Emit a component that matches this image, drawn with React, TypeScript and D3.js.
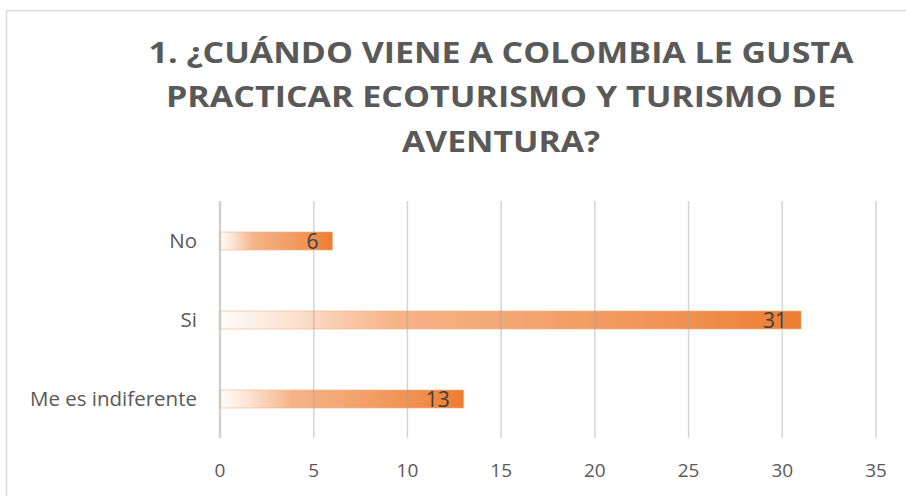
import React from "react";
import * as d3 from "d3";

const categories = ["No", "Si", "Me es indiferente"];
const values = [6, 31, 13];
const xTicks = [0, 5, 10, 15, 20, 25, 30, 35];
const titleLines = [
  "1. ¿CUÁNDO VIENE A COLOMBIA LE GUSTA",
  "PRACTICAR ECOTURISMO Y TURISMO DE",
  "AVENTURA?",
];

const W = 906;
const H = 496;
const FONT = "'Open Sans', 'Noto Sans', sans-serif";

export default function App() {
  const x = d3.scaleLinear().domain([0, 35]).range([220, 876]);
  const y = d3
    .scaleBand<string>()
    .domain(categories)
    .range([201.5, 438.5])
    .paddingInner(0.772)
    .paddingOuter(0.386);
  const bw = y.bandwidth();

  const titleSpec = [
    { y: 63, w: 705 },
    { y: 107, w: 670 },
    { y: 152, w: 198 },
  ];

  return (
    <svg
      width={W}
      height={H}
      style={{ position: "absolute", left: 0, top: 0, background: "#fff" }}
    >
      <defs>
        <linearGradient id="barGrad" x1="0" y1="0" x2="1" y2="0">
          <stop offset="0" stopColor="#ED7D31" stopOpacity={0.02} />
          <stop offset="0.12" stopColor="#ED7D31" stopOpacity={0.22} />
          <stop offset="0.3" stopColor="#ED7D31" stopOpacity={0.58} />
          <stop offset="0.5" stopColor="#ED7D31" stopOpacity={0.68} />
          <stop offset="0.8" stopColor="#ED7D31" stopOpacity={0.85} />
          <stop offset="1" stopColor="#ED7D31" stopOpacity={1} />
        </linearGradient>
      </defs>
      <rect x={0} y={0} width={W} height={H} fill="#fff" />
      <rect
        x={6.5}
        y={10.5}
        width={W + 20}
        height={H + 20}
        fill="none"
        stroke="#D9D9D9"
        strokeWidth={1.5}
      />
      {titleLines.map((t, i) => (
        <text
          key={i}
          x={501}
          y={titleSpec[i].y}
          textAnchor="middle"
          fontFamily={FONT}
          fontWeight={700}
          fontSize={29}
          fill="#595959"
          textLength={titleSpec[i].w}
          lengthAdjust="spacingAndGlyphs"
        >
          {t}
        </text>
      ))}
      {categories.map((c, i) => (
        <rect
          key={c}
          x={x(0)}
          y={y(c)!}
          width={x(values[i]) - x(0)}
          height={bw}
          fill="url(#barGrad)"
          stroke="#F4B183"
          strokeOpacity={0.6}
          strokeWidth={1}
        />
      ))}
      {xTicks.map((t) => (
        <line
          key={t}
          x1={x(t)}
          x2={x(t)}
          y1={201}
          y2={438}
          stroke="#A6A6A6"
          strokeOpacity={t === 0 ? 0.5 : 0.48}
          strokeWidth={t === 0 ? 2.5 : 1.5}
        />
      ))}
      {categories.map((c, i) => (
        <text
          key={c}
          x={x(values[i]) - 14}
          y={y(c)! + bw / 2 + 7.5}
          textAnchor="end"
          fontFamily={FONT}
          fontSize={21}
          fill="#404040"
        >
          {values[i]}
        </text>
      ))}
      {categories.map((c) => (
        <text
          key={c}
          x={197}
          y={y(c)! + bw / 2 + 7}
          textAnchor="end"
          fontFamily={FONT}
          fontSize={20.5}
          fill="#595959"
        >
          {c}
        </text>
      ))}
      {xTicks.map((t) => (
        <text
          key={t}
          x={x(t)}
          y={477}
          textAnchor="middle"
          fontFamily={FONT}
          fontSize={19}
          fill="#595959"
        >
          {t}
        </text>
      ))}
    </svg>
  );
}
